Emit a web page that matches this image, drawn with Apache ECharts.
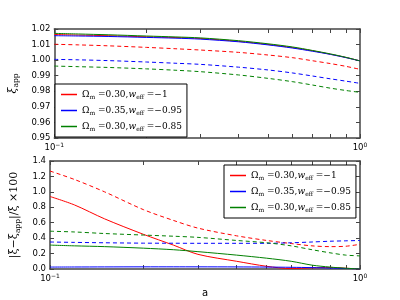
<!DOCTYPE html>
<html><head><meta charset="utf-8">
<script src="https://cdn.jsdelivr.net/npm/echarts@6/dist/echarts.min.js"></script>
<style>html,body{margin:0;padding:0;background:#fff}#c{width:400px;height:300px}</style>
</head><body><div id="c"></div>
<script>
// ---- data ----
const aValues = [0.1, 0.12, 0.15, 0.2, 0.25, 0.3, 0.4, 0.5, 0.6, 0.7, 0.8, 0.9, 1.0];
const seriesNames = ['m30w100', 'm35w95', 'm30w85'];
const legendParts = [['0.30', '−1'], ['0.35', '−0.95'], ['0.30', '−0.85']];
const colors = ['#ff0000', '#0000ff', '#008000'];

// top panel: xi_app (solid / dashed)
const topSolidRed   = [1.0165, 1.0161, 1.0157, 1.0150, 1.0145, 1.0139, 1.0121, 1.0101, 1.0081, 1.0060, 1.0038, 1.0017, 0.9995];
const topSolidBlue  = [1.0157, 1.0155, 1.0152, 1.0146, 1.0141, 1.0135, 1.0118, 1.0098, 1.0078, 1.0057, 1.0037, 1.0016, 0.9995];
const topSolidGreen = [1.0172, 1.0168, 1.0163, 1.0155, 1.0149, 1.0143, 1.0125, 1.0105, 1.0085, 1.0062, 1.0040, 1.0018, 0.9995];
const topDashRed    = [1.0102, 1.0098, 1.0092, 1.0082, 1.0073, 1.0065, 1.0050, 1.0033, 1.0016, 0.9996, 0.9978, 0.9960, 0.9941];
const topDashBlue   = [1.0005, 1.0002, 0.9997, 0.9988, 0.9980, 0.9973, 0.9955, 0.9937, 0.9918, 0.9898, 0.9880, 0.9865, 0.9851];
const topDashGreen  = [0.9962, 0.9958, 0.9953, 0.9944, 0.9935, 0.9926, 0.9905, 0.9883, 0.9862, 0.9840, 0.9820, 0.9805, 0.9793];

// bottom panel: relative difference x100
const botSolidRed   = [0.94, 0.83, 0.65, 0.45, 0.31, 0.19, 0.10, 0.035, 0.005, 0.015, 0.02, 0.01, 0.0];
const botSolidBlue  = [0.025, 0.026, 0.027, 0.028, 0.028, 0.028, 0.027, 0.025, 0.022, 0.018, 0.012, 0.006, 0.0];
const botSolidGreen = [0.31, 0.30, 0.29, 0.27, 0.25, 0.225, 0.18, 0.14, 0.10, 0.05, 0.025, 0.01, 0.0];
const botDashRed    = [1.27, 1.16, 1.00, 0.77, 0.63, 0.53, 0.43, 0.37, 0.33, 0.30, 0.29, 0.295, 0.32];
const botDashBlue   = [0.35, 0.345, 0.34, 0.335, 0.334, 0.333, 0.333, 0.333, 0.34, 0.35, 0.36, 0.365, 0.37];
const botDashGreen  = [0.49, 0.48, 0.46, 0.44, 0.425, 0.41, 0.37, 0.34, 0.30, 0.25, 0.21, 0.18, 0.17];

const xMajor = [0.1, 1.0];
const xMinor = [0.1, 0.2, 0.3, 0.4, 0.5, 0.6, 0.7, 0.8, 0.9, 1.0];
const xSup = ['−1', '0'];

// ---- build ----
const lg = v => Math.log10(v);
const pts = ys => aValues.map((a, i) => [lg(a), ys[i]]);
const frame = '#444';
const tickFont = {fontFamily: 'DejaVu Sans', fontSize: 8.5, color: '#000'};

function xAxisDef(gi, pos, labels) {
  return {
    type: 'value', gridIndex: gi, position: pos, min: -1, max: 0,
    axisLine: {show: true, onZero: false, lineStyle: {color: frame, width: 1.5}},
    axisTick: {show: true, inside: true, length: 4, customValues: xMinor.map(lg), lineStyle: {color: frame}},
    splitLine: {show: false},
    axisLabel: labels ? {
      show: true, margin: 4, customValues: xMajor.map(lg),
      formatter: v => '{n|10}{s|' + (Math.abs(v) < 1e-9 ? xSup[1] : xSup[0]) + '}',
      rich: {n: {...tickFont}, s: {...tickFont, fontSize: 6, padding: [0, 0, 6, 0]}}
    } : {show: false}
  };
}
function yAxisDef(gi, pos, min, max, interval, labels, name, nameGap, rich) {
  const d = {
    type: 'value', gridIndex: gi, position: pos, min, max, interval,
    axisLine: {show: true, onZero: false, lineStyle: {color: frame, width: 1.5}},
    axisTick: {show: true, inside: true, length: 4, lineStyle: {color: frame}},
    splitLine: {show: false},
    axisLabel: labels ? {show: true, margin: 4, ...tickFont, formatter: v => v.toFixed(interval < 0.1 ? 2 : 1)} : {show: false}
  };
  if (name) {
    d.name = name; d.nameLocation = 'middle'; d.nameGap = nameGap; d.nameRotate = 90;
    d.nameTextStyle = {rich};
  }
  return d;
}

const serif = 'DejaVu Serif';
const nameRich = {
  x: {fontFamily: serif, fontStyle: 'italic', fontSize: 11, color: '#000'},
  t: {fontFamily: serif, fontSize: 11, color: '#000'},
  sub: {fontFamily: serif, fontSize: 7.5, color: '#000', padding: [6, 0, 0, 0]}
};

const legRich = {
  t: {fontFamily: serif, fontSize: 9, color: '#000'},
  i: {fontFamily: serif, fontStyle: 'italic', fontSize: 9, color: '#000'},
  sub: {fontFamily: serif, fontSize: 6, color: '#000', padding: [5, 0, 0, 0]}
};
const legFmt = name => {
  const k = seriesNames.indexOf(name);
  return '{t|Ω}{sub|m}{t| =' + legendParts[k][0] + ',}{i|w}{sub|eff}{t| =' + legendParts[k][1] + '}';
};
function legendDef(left, top) {
  return {
    data: seriesNames.map((n, k) => ({name: n, icon: 'rect', itemStyle: {color: colors[k]}})),
    orient: 'vertical', left, top, itemWidth: 16, itemHeight: 1.5, itemGap: 6,
    backgroundColor: '#fff', borderColor: '#000', borderWidth: 1, borderRadius: 0,
    padding: [6, 5, 5, 6], formatter: legFmt, textStyle: {rich: legRich}, selectedMode: false
  };
}

function line(name, k, data, xi, yi, dashed) {
  return {
    type: 'line', name, xAxisIndex: xi, yAxisIndex: yi, data: pts(data),
    showSymbol: false, symbol: 'none', smooth: 0.3, animation: false,
    lineStyle: {color: colors[k], width: 1, type: dashed ? [4, 3] : 'solid'},
    itemStyle: {color: colors[k]}
  };
}

const option = {
  animation: false,
  grid: [
    {left: 50, top: 29, width: 310, height: 109, show: false},
    {left: 50, top: 161, width: 310, height: 108, show: false}
  ],
  xAxis: [
    xAxisDef(0, 'bottom', true), xAxisDef(0, 'top', false),
    {...xAxisDef(1, 'bottom', true), name: 'a', nameLocation: 'middle', nameGap: 19,
      nameTextStyle: {fontFamily: 'DejaVu Sans', fontSize: 10, color: '#000'}},
    xAxisDef(1, 'top', false)
  ],
  yAxis: [
    yAxisDef(0, 'left', 0.95, 1.02, 0.01, true, '{x|ξ}{sub|app}', 32, nameRich),
    yAxisDef(0, 'right', 0.95, 1.02, 0.01, false),
    yAxisDef(1, 'left', 0, 1.4, 0.2, true, '{t||ξ−ξ}{sub|app}{t||/ξ ×100}', 27, nameRich),
    yAxisDef(1, 'right', 0, 1.4, 0.2, false)
  ],
  legend: [legendDef(55, 84), legendDef(224, 165)],
  series: [
    line(seriesNames[0], 0, topSolidRed, 0, 0, false),
    line(seriesNames[1], 1, topSolidBlue, 0, 0, false),
    line(seriesNames[2], 2, topSolidGreen, 0, 0, false),
    line(seriesNames[0], 0, topDashRed, 0, 0, true),
    line(seriesNames[1], 1, topDashBlue, 0, 0, true),
    line(seriesNames[2], 2, topDashGreen, 0, 0, true),
    line(seriesNames[0], 0, botSolidRed, 2, 2, false),
    line(seriesNames[1], 1, botSolidBlue, 2, 2, false),
    line(seriesNames[2], 2, botSolidGreen, 2, 2, false),
    line(seriesNames[0], 0, botDashRed, 2, 2, true),
    line(seriesNames[1], 1, botDashBlue, 2, 2, true),
    line(seriesNames[2], 2, botDashGreen, 2, 2, true)
  ]
};
const chart = echarts.init(document.getElementById('c'), null, {renderer: 'canvas'});
chart.setOption(option);
</script></body></html>
